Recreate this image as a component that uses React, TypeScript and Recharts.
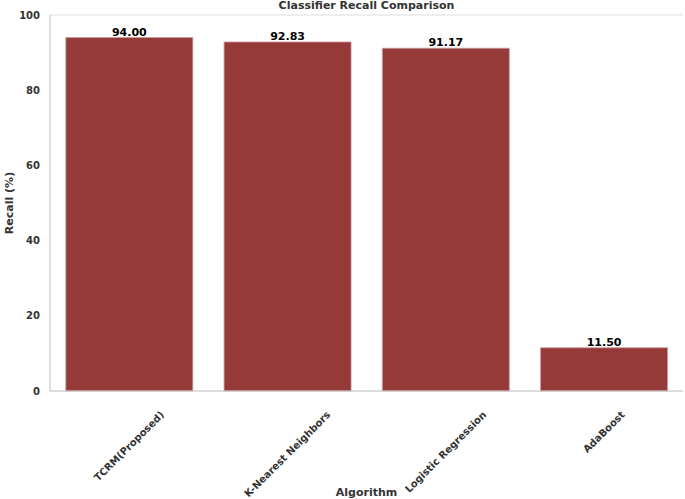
import React from "react";
import { BarChart, Bar, XAxis, YAxis, CartesianGrid, LabelList } from "recharts";

const algorithms = ["TCRM(Proposed)", "K-Nearest Neighbors", "Logistic Regression", "AdaBoost"];
const recallValues = [94.0, 92.83, 91.17, 11.5];
const yTicks = [0, 20, 40, 60, 80, 100];

const data = algorithms.map((name, i) => ({ name, recall: recallValues[i] }));

const FONT = "'DejaVu Sans', sans-serif";

let ctx: CanvasRenderingContext2D | null = null;
function measure(text: string, size: number): number {
  if (typeof document !== "undefined") {
    if (!ctx) ctx = document.createElement("canvas").getContext("2d");
    if (ctx) {
      ctx.font = `bold ${size}px 'DejaVu Sans'`;
      return ctx.measureText(text).width;
    }
  }
  return text.length * size * 0.65;
}

const XTick = (props: any) => {
  const { x, y, payload } = props;
  const size = 10;
  const w = measure(payload.value, size);
  const h = size * 1.1;
  const k = Math.SQRT1_2;
  const cy = y + 10 + ((w + h) * k) / 2;
  return (
    <text
      x={x}
      y={cy}
      transform={`rotate(-45, ${x}, ${cy})`}
      textAnchor="middle"
      dominantBaseline="central"
      fontFamily={FONT}
      fontWeight="bold"
      fontSize={size}
      fill="#333333"
    >
      {payload.value}
    </text>
  );
};

const YLabel = (props: any) => {
  const { viewBox } = props;
  const cy = viewBox.y + viewBox.height / 2;
  return (
    <text
      x={9}
      y={cy}
      transform={`rotate(-90, 9, ${cy})`}
      textAnchor="middle"
      dominantBaseline="central"
      fontFamily={FONT}
      fontWeight="bold"
      fontSize={11}
      fill="#333333"
    >
      Recall (%)
    </text>
  );
};

export default function App() {
  return (
    <div style={{ position: "absolute", left: 0, top: 0, width: 685, height: 499, background: "#ffffff" }}>
      <BarChart
        width={685}
        height={499}
        data={data}
        margin={{ top: 15, right: 2, bottom: 0, left: 0 }}
        barCategoryGap="10%"
      >
        <CartesianGrid vertical={false} stroke="#dddddd" strokeWidth={1} />
        <XAxis
          dataKey="name"
          xAxisId="b"
          height={108}
          tickLine={false}
          axisLine={{ stroke: "#cccccc", strokeWidth: 1.2 }}
          tick={<XTick />}
          interval={0}
          label={{
            value: "Algorithm",
            position: "insideBottom",
            offset: 3,
            style: { fontFamily: FONT, fontWeight: "bold", fontSize: 11, fill: "#333333" },
          }}
        />
        <XAxis
          dataKey="name"
          xAxisId="t"
          orientation="top"
          height={0}
          tick={false}
          tickLine={false}
          axisLine={{ stroke: "#cccccc", strokeWidth: 1.2 }}
        />
        <YAxis
          yAxisId="l"
          width={50}
          domain={[0, 100]}
          ticks={yTicks}
          tickLine={false}
          tickSize={0}
          tickMargin={10}
          axisLine={{ stroke: "#cccccc", strokeWidth: 1.2 }}
          tick={{ fontFamily: FONT, fontWeight: "bold", fontSize: 10, fill: "#333333" }}
          label={<YLabel />}
        />
        <YAxis
          yAxisId="r"
          orientation="right"
          width={0}
          domain={[0, 100]}
          ticks={yTicks}
          tick={false}
          tickLine={false}
          axisLine={{ stroke: "#cccccc", strokeWidth: 1.2 }}
        />
        <Bar
          dataKey="recall"
          xAxisId="b"
          yAxisId="l"
          fill="#963a39"
          stroke="#c99a9a"
          strokeWidth={0.8}
          isAnimationActive={false}
        >
          <LabelList
            dataKey="recall"
            position="top"
            offset={2}
            formatter={(v: any) => Number(v).toFixed(2)}
            style={{ fontFamily: FONT, fontWeight: "bold", fontSize: 11, fill: "#000000" }}
          />
        </Bar>
      </BarChart>
      <div
        style={{
          position: "absolute",
          left: 50,
          width: 633,
          top: -1,
          textAlign: "center",
          fontFamily: FONT,
          fontWeight: "bold",
          fontSize: 11,
          color: "#333333",
          lineHeight: "14px",
        }}
      >
        Classifier Recall Comparison
      </div>
    </div>
  );
}
